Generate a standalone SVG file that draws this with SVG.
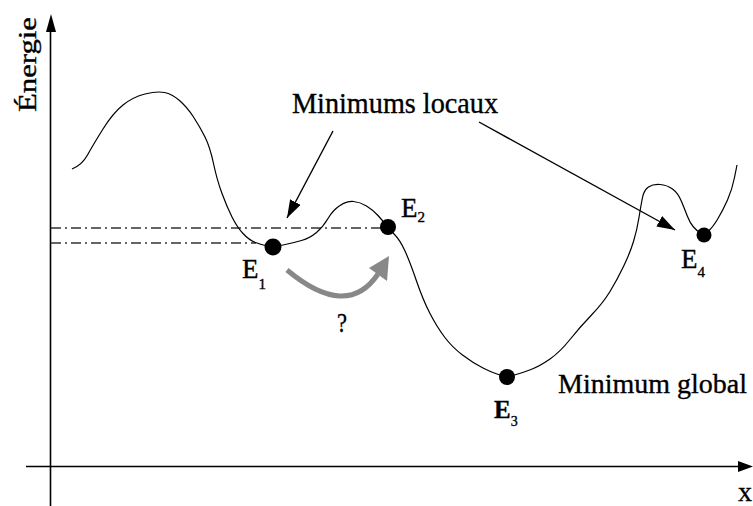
<svg xmlns="http://www.w3.org/2000/svg" width="753" height="506" viewBox="0 0 753 506">
<style>
text{font-family:'Liberation Serif','DejaVu Serif','Noto Serif',serif;fill:#000;stroke:#000;stroke-width:0.35}
.ax{stroke:#000;stroke-width:1.6;fill:none}
.cv{stroke:#000;stroke-width:1.2;fill:none;stroke-linejoin:round}
.dd{stroke:#333;stroke-width:1.5;fill:none;stroke-dasharray:10 4 2 4}
.ar{stroke:#000;stroke-width:1.4;fill:none}
.dot{fill:#000}
</style>
<defs>
<marker id="ah" markerUnits="userSpaceOnUse" markerWidth="20" markerHeight="12" refX="18" refY="6" orient="auto">
<path d="M0,0 L18,6 L0,12 z" fill="#000"/>
</marker>
</defs>
<rect width="753" height="506" fill="#fff"/>
<g id="axes">
<line class="ax" x1="50.5" y1="28" x2="50.5" y2="506"/>
<polygon points="51,14 46,32 56,32" fill="#000"/>
<line class="ax" x1="26" y1="466.5" x2="742" y2="466.5"/>
<polygon points="753,466.5 738,461 738,472" fill="#000"/>
<text x="36" y="64.5" font-size="26" text-anchor="middle" textLength="95" lengthAdjust="spacingAndGlyphs" transform="rotate(-90 36 64.5)">Énergie</text>
<text x="738" y="501" font-size="28">x</text>
</g>
<g id="levels">
<line class="dd" x1="51" y1="228" x2="382" y2="228"/>
<line class="dd" x1="51" y1="243" x2="256" y2="243"/>
</g>
<g id="curve">
<path class="cv" d="M72,169 Q82,165 87.5,155 Q93,145 103,129 Q113,113 123,105 Q133,97 145,94 Q157,91 164.5,92.5 Q172,94 179.5,100.5 Q187,107 193.5,117 Q200,127 205,137 Q210,147 213.5,163.5 Q217,180 222,193.5 Q227,207 232,217 Q237,227 243,233.5 Q249,240 255.5,242.5 Q262,245 267.5,246 Q273,247 283,245 Q293,243 301.5,240.5 Q310,238 316.5,232.5 Q323,227 328,218.5 Q333,210 340,205.5 Q347,201 353.5,201.5 Q360,202 366.5,206 Q373,210 378,215.5 Q383,221 386,225 Q389,229 394.5,234.5 Q400,240 405,251 Q410,262 416.5,281 Q423,300 430,313.5 Q437,327 444.5,337 Q452,347 462.5,355 Q473,363 483,368 Q493,373 500,375 Q507,377 514.5,375 Q522,373 531,369.5 Q540,366 550,359 Q560,352 570,339.5 Q580,327 591.5,315 Q603,303 610,291.5 Q617,280 623.5,266.5 Q630,253 633.5,241.5 Q637,230 639,217.5 Q641,205 642.5,197.5 Q644,190 648.5,187 Q653,184 660,184.5 Q667,185 672.5,189 Q678,193 681.5,201.5 Q685,210 687.5,216.5 Q690,223 693.5,227 Q697,231 700.5,233 Q704,235 708.5,231 Q713,227 718,218.5 Q723,210 727.5,200 Q732,190 734.5,177.5 L737,165"/>
</g>
<g id="E1">
<circle class="dot" cx="273" cy="247" r="8.5"/>
<text x="242" y="278" font-size="27">E<tspan font-size="15" dy="11">1</tspan></text>
</g>
<g id="E2">
<circle class="dot" cx="388" cy="227" r="8"/>
<text x="401" y="217" font-size="27">E<tspan font-size="15" dy="5">2</tspan></text>
</g>
<g id="E3">
<circle class="dot" cx="507" cy="377" r="8"/>
<text x="494" y="418" font-size="25" font-weight="bold">E<tspan font-size="14" font-weight="normal" dy="8">3</tspan></text>
</g>
<g id="E4">
<circle class="dot" cx="704" cy="235" r="7.5"/>
<text x="681" y="268" font-size="27">E<tspan font-size="15" dy="9">4</tspan></text>
</g>
<g id="label-locaux">
<text x="292" y="113" font-size="30" textLength="206" lengthAdjust="spacingAndGlyphs">Minimums locaux</text>
</g>
<g id="label-global">
<text x="558" y="393" font-size="28" textLength="189" lengthAdjust="spacingAndGlyphs">Minimum global</text>
</g>
<g id="connectors">
<line class="ar" x1="333" y1="131" x2="287" y2="218" marker-end="url(#ah)"/>
<line class="ar" x1="479" y1="122" x2="675" y2="230" marker-end="url(#ah)"/>
<path d="M287,270 Q347,320 378,274" stroke="#888" stroke-width="5" fill="none"/>
<polygon points="389,256 369,268 387,281" fill="#888"/>
<text x="342" y="332" font-size="28" text-anchor="middle" textLength="10" lengthAdjust="spacingAndGlyphs">?</text>
</g>
</svg>
